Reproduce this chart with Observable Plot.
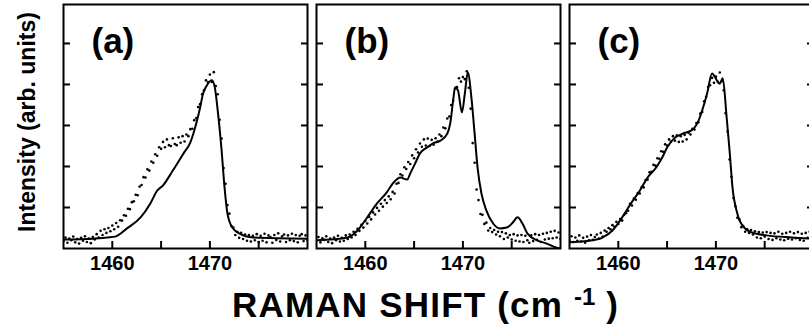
<!DOCTYPE html>
<html>
<head>
<meta charset="utf-8">
<script src="https://cdn.jsdelivr.net/npm/d3@7"></script>
<script src="https://cdn.jsdelivr.net/npm/@observablehq/plot@0.6"></script>
<style>
  html, body { margin: 0; padding: 0; background: #fff; }
  #figure {
    position: relative; width: 809px; height: 331px; overflow: hidden;
    font-family: "Liberation Sans", Arial, Helvetica, sans-serif; font-weight: bold; color: #000;
  }
  #figure svg { position: absolute; left: 0; top: 0; }
  #xtitle {
    position: absolute; left: 232px; top: 287px; font-size: 35px; line-height: 35px;
    letter-spacing: 1.2px; white-space: nowrap;
  }
  #xtitle .sup { position: relative; top: -12px; font-size: 24px; letter-spacing: 0; }
</style>
</head>
<body>
<div id="figure">
  <div id="xtitle">RAMAN SHIFT (cm <span class="sup">-1</span> )</div>
</div>
<script>
// Raman shift sampling of the measured spectra (cm^-1)
const shift = [
  1455.0, 1455.2, 1455.4, 1455.6, 1455.8, 1456.0, 1456.2, 1456.4, 1456.6, 1456.8,
  1457.0, 1457.2, 1457.4, 1457.6, 1457.8, 1458.0, 1458.2, 1458.4, 1458.6, 1458.8,
  1459.0, 1459.2, 1459.4, 1459.6, 1459.8, 1460.0, 1460.2, 1460.4, 1460.6, 1460.8,
  1461.0, 1461.2, 1461.4, 1461.6, 1461.8, 1462.0, 1462.2, 1462.4, 1462.6, 1462.8,
  1463.0, 1463.2, 1463.4, 1463.6, 1463.8, 1464.0, 1464.2, 1464.4, 1464.6, 1464.8,
  1465.0, 1465.2, 1465.4, 1465.6, 1465.8, 1466.0, 1466.2, 1466.4, 1466.6, 1466.8,
  1467.0, 1467.2, 1467.4, 1467.6, 1467.8, 1468.0, 1468.2, 1468.4, 1468.6, 1468.8,
  1469.0, 1469.2, 1469.4, 1469.6, 1469.8, 1470.0, 1470.2, 1470.4, 1470.6, 1470.8,
  1471.0, 1471.2, 1471.4, 1471.6, 1471.8, 1472.0, 1472.2, 1472.4, 1472.6, 1472.8,
  1473.0, 1473.2, 1473.4, 1473.6, 1473.8, 1474.0, 1474.2, 1474.4, 1474.6, 1474.8,
  1475.0, 1475.2, 1475.4, 1475.6, 1475.8, 1476.0, 1476.2, 1476.4, 1476.6, 1476.8,
  1477.0, 1477.2, 1477.4, 1477.6, 1477.8, 1478.0, 1478.2, 1478.4, 1478.6, 1478.8,
  1479.0, 1479.2, 1479.4, 1479.6, 1479.8, 1480.0
];

// Measured intensities (arb. units), one value per shift
const measuredA = [
  0.18, 0.27, 0.14, 0.24, 0.20, 0.29, 0.15, 0.23, 0.12, 0.26,
  0.19, 0.30, 0.16, 0.24, 0.13, 0.28, 0.22, 0.35, 0.27, 0.43,
  0.33, 0.47, 0.38, 0.50, 0.42, 0.56, 0.47, 0.62, 0.53, 0.69,
  0.68, 0.81, 0.80, 0.97, 0.96, 1.13, 1.15, 1.31, 1.30, 1.51,
  1.55, 1.74, 1.73, 1.93, 1.90, 2.12, 2.09, 2.30, 2.26, 2.47,
  2.43, 2.60, 2.47, 2.66, 2.52, 2.50, 2.69, 2.55, 2.52, 2.71,
  2.58, 2.74, 2.61, 2.78, 2.74, 2.91, 2.92, 3.13, 3.18, 3.45,
  3.52, 3.76, 3.86, 4.10, 4.05, 4.24, 4.06, 4.30, 3.96, 3.76,
  3.14, 2.68, 1.96, 1.58, 1.06, 0.85, 0.55, 0.51, 0.33, 0.41,
  0.26, 0.38, 0.23, 0.34, 0.19, 0.33, 0.17, 0.31, 0.20, 0.35,
  0.16, 0.31, 0.19, 0.36, 0.15, 0.32, 0.28, 0.14, 0.33, 0.21,
  0.37, 0.17, 0.30, 0.34, 0.16, 0.32, 0.20, 0.36, 0.18, 0.33,
  0.15, 0.31, 0.35, 0.18, 0.32, 0.21
];
const measuredB = [
  0.19, 0.28, 0.15, 0.25, 0.21, 0.30, 0.16, 0.24, 0.13, 0.27,
  0.20, 0.31, 0.17, 0.26, 0.19, 0.32, 0.23, 0.34, 0.27, 0.41,
  0.33, 0.48, 0.43, 0.58, 0.51, 0.67, 0.61, 0.77, 0.71, 0.88,
  0.83, 0.99, 0.92, 1.09, 1.02, 1.18, 1.11, 1.27, 1.20, 1.38,
  1.34, 1.58, 1.60, 1.81, 1.78, 1.98, 1.94, 2.11, 2.06, 2.27,
  2.20, 2.42, 2.34, 2.56, 2.48, 2.66, 2.51, 2.68, 2.50, 2.65,
  2.53, 2.69, 2.61, 2.78, 2.74, 2.95, 2.93, 3.17, 3.22, 3.50,
  3.60, 3.90, 3.94, 4.15, 4.07, 4.18, 4.13, 4.32, 3.92, 3.41,
  2.57, 2.09, 1.44, 1.18, 0.84, 0.82, 0.60, 0.63, 0.44, 0.50,
  0.40, 0.45, 0.34, 0.41, 0.30, 0.40, 0.23, 0.37, 0.27, 0.33,
  0.22, 0.35, 0.19, 0.32, 0.17, 0.33, 0.16, 0.31, 0.20, 0.14,
  0.32, 0.18, 0.35, 0.21, 0.33, 0.16, 0.36, 0.22, 0.38, 0.24,
  0.41, 0.25, 0.43, 0.27, 0.39, 0.24
];
const measuredC = [
  0.20, 0.30, 0.16, 0.27, 0.19, 0.32, 0.17, 0.26, 0.14, 0.29,
  0.20, 0.33, 0.21, 0.28, 0.34, 0.24, 0.38, 0.29, 0.44, 0.41,
  0.50, 0.47, 0.57, 0.53, 0.65, 0.60, 0.72, 0.68, 0.82, 0.86,
  0.92, 1.09, 1.05, 1.22, 1.19, 1.35, 1.34, 1.50, 1.49, 1.67,
  1.68, 1.86, 1.87, 2.04, 2.02, 2.20, 2.19, 2.37, 2.36, 2.54,
  2.51, 2.66, 2.61, 2.74, 2.63, 2.76, 2.60, 2.74, 2.61, 2.77,
  2.66, 2.82, 2.78, 2.92, 2.90, 3.06, 3.08, 3.29, 3.33, 3.59,
  3.70, 3.94, 3.98, 4.16, 4.04, 4.19, 4.06, 4.29, 4.08, 3.86,
  3.30, 2.85, 2.17, 1.75, 1.23, 1.03, 0.75, 0.71, 0.52, 0.55,
  0.41, 0.47, 0.38, 0.45, 0.34, 0.42, 0.27, 0.40, 0.25, 0.39,
  0.29, 0.40, 0.23, 0.38, 0.21, 0.37, 0.25, 0.41, 0.22, 0.36,
  0.20, 0.38, 0.24, 0.41, 0.22, 0.37, 0.25, 0.40, 0.21, 0.36,
  0.19, 0.38, 0.26, 0.41, 0.23, 0.37
];

// Calculated line shapes
const fitShiftA = [1455.0, 1458.0, 1459.5, 1460.3, 1461.5, 1462.9, 1463.9, 1464.6, 1465.2, 1466.2,
  1467.3, 1468.0, 1468.3, 1469.0, 1469.3, 1469.7, 1470.2, 1470.5, 1470.8, 1471.2,
  1471.5, 1471.8, 1472.3, 1473.0, 1474.4, 1480.0];
const fitA = [0.22, 0.24, 0.27, 0.29, 0.49, 0.76, 1.10, 1.41, 1.54, 1.90,
  2.32, 2.59, 2.80, 3.44, 3.78, 3.98, 4.10, 3.93, 3.37, 2.39,
  1.49, 0.85, 0.51, 0.37, 0.27, 0.24];

const fitShiftB = [1455.0, 1458.2, 1459.2, 1460.2, 1461.2, 1462.2, 1462.9, 1463.6, 1464.3, 1464.6,
  1465.1, 1465.6, 1466.3, 1466.9, 1467.7, 1468.4, 1468.7, 1469.0, 1469.2, 1469.5,
  1469.9, 1470.2, 1470.5, 1470.9, 1471.2, 1471.5, 1471.9, 1472.4, 1473.1, 1473.8,
  1474.5, 1475.1, 1475.6, 1476.1, 1476.6, 1477.6, 1478.6, 1479.6, 1480.0];
const fitB = [0.20, 0.27, 0.44, 0.76, 1.10, 1.37, 1.61, 1.73, 1.68, 1.83,
  2.07, 2.32, 2.46, 2.56, 2.63, 2.80, 3.05, 3.61, 3.93, 3.85,
  3.32, 3.78, 4.29, 3.61, 2.80, 1.98, 1.34, 0.93, 0.61, 0.49,
  0.51, 0.63, 0.76, 0.61, 0.37, 0.20, 0.12, 0.02, 0.00];

const fitShiftC = [1455.0, 1458.1, 1458.4, 1459.4, 1460.4, 1461.3, 1462.2, 1463.0, 1463.9, 1464.5,
  1465.0, 1465.7, 1466.6, 1467.5, 1468.1, 1468.6, 1469.1, 1469.6, 1470.1, 1470.4,
  1470.7, 1471.1, 1471.4, 1471.7, 1472.2, 1472.9, 1473.7, 1475.2, 1477.8, 1480.0];
const fitC = [0.15, 0.24, 0.27, 0.44, 0.76, 1.10, 1.41, 1.73, 1.98, 2.22,
  2.46, 2.68, 2.80, 2.88, 3.05, 3.37, 3.78, 4.27, 4.10, 4.02,
  4.15, 3.20, 2.39, 1.49, 0.85, 0.51, 0.39, 0.32, 0.27, 0.24];

// Panels, tick values and labels
const panels = ["a", "b", "c"];
const panelTags = ["(a)", "(b)", "(c)"];
const xTicks = [1460, 1465, 1470, 1475];
const xTickLabels = [1460, 1470];
const yTicks = [1, 2, 3, 4, 5];
const yTitle = "Intensity (arb. units)";

const measured = {a: measuredA, b: measuredB, c: measuredC};
const fits = {a: [fitShiftA, fitA], b: [fitShiftB, fitB], c: [fitShiftC, fitC]};

const points = panels.flatMap(p => shift.map((x, i) => ({panel: p, shift: x, intensity: measured[p][i]})));
const curves = panels.flatMap(p => fits[p][0].map((x, i) => ({panel: p, shift: x, intensity: fits[p][1][i]})));
const tags = panels.map((p, i) => ({panel: p, tag: panelTags[i]}));

const font = '"Liberation Sans", Arial, Helvetica, sans-serif';

const chart = Plot.plot({
  width: 820,
  height: 280,
  marginLeft: 62,
  marginRight: 6,
  marginTop: 4,
  marginBottom: 32,
  style: {fontFamily: font, fontWeight: "bold", fontSize: "20px", background: "white", color: "black", maxWidth: "none", overflow: "hidden"},
  fx: {domain: panels, paddingInner: 0.035, paddingOuter: 0, axis: null, label: null},
  x: {domain: [1455, 1480], label: null},
  y: {domain: [0, 5.95], label: null},
  marks: [
    Plot.dot(points, {fx: "panel", x: "shift", y: "intensity", r: 1.3, fill: "black", stroke: "none", clip: true}),
    Plot.line(curves, {fx: "panel", x: "shift", y: "intensity", z: "panel", stroke: "black", strokeWidth: 2, curve: "monotone-x", clip: true}),
    Plot.axisY(yTicks, {anchor: "left", facetAnchor: null, tickSize: -7, strokeWidth: 2, tickFormat: () => "", label: null}),
    Plot.axisY(yTicks, {anchor: "right", facetAnchor: null, tickSize: -7, strokeWidth: 2, tickFormat: () => "", label: null}),
    Plot.axisX(xTicks, {anchor: "bottom", facetAnchor: null, tickSize: -7, strokeWidth: 2, tickPadding: 14,
      fontSize: 20, fontWeight: "bold", label: null,
      tickFormat: d => xTickLabels.includes(d) ? String(d) : ""}),
    Plot.frame({stroke: "black", strokeWidth: 2}),
    Plot.text(tags, {fx: "panel", text: "tag", frameAnchor: "top-left", dx: 28, dy: 24,
      lineAnchor: "top", textAnchor: "start", fontSize: 35, fontWeight: "bold"}),
    Plot.text([{panel: "a", title: yTitle}], {fx: "panel", text: "title", frameAnchor: "left", rotate: -90,
      dx: -36, dy: -4.5, textAnchor: "middle", fontSize: 23, fontWeight: "bold"})
  ]
});

document.getElementById("figure").appendChild(chart);
</script>
</body>
</html>
